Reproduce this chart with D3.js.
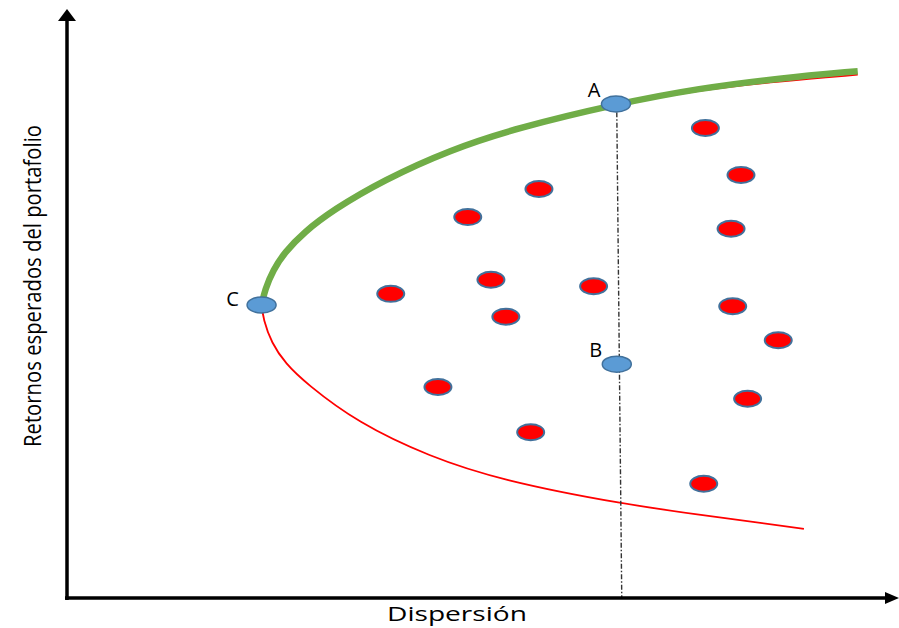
<!DOCTYPE html>
<html>
<head>
<meta charset="utf-8">
<script src="https://cdn.jsdelivr.net/npm/d3@7"></script>
<style>
  html, body { margin: 0; padding: 0; background: #fff; }
  svg { display: block; }
</style>
</head>
<body>
<svg id="chart" width="899" height="628"></svg>
<script>
// ---- Data (dispersion, expected return) in arbitrary units 0-100 ----
const frontierUpper = [
  [23.5, 50.0], [23.9, 52.6], [24.9, 56.0], [26.3, 59.0], [28.6, 62.4], [32.1, 66.2],
  [38.2, 71.3], [46.3, 76.5], [54.3, 80.2], [66.3, 84.3], [76.4, 87.0],
  [86.1, 88.7], [95.5, 89.9]
];
const redUpperTail = [[76.4, 86.7], [86.1, 88.2], [95.5, 89.3]];
const frontierLower = [
  [23.5, 50.0], [23.7, 47.6], [24.7, 43.5], [26.4, 40.0], [28.8, 36.7], [35.1, 29.9],
  [43.8, 24.1], [52.4, 20.1], [67.1, 16.0], [78.5, 13.8], [89.0, 11.8]
];
const portfolioX = [77.1, 81.4, 57.0, 48.4, 80.2, 39.1, 51.2, 63.6, 53.0, 80.4, 85.9, 44.8, 82.2, 56.0, 76.9];
const portfolioY = [80.2, 72.2, 69.8, 65.0, 63.0, 51.9, 54.3, 53.2, 48.0, 49.8, 44.0, 36.0, 34.0, 28.3, 19.5];
const keyLabels = ["A", "B", "C"];
const keyX = [66.3, 66.4, 23.5];
const keyY = [84.3, 39.9, 50.0];
const guideX = [66.4, 67.0];
const guideY = [82.9, 0];
const xTitle = "Dispersión";
const yTitle = "Retornos esperados del portafolio";

// ---- Scales ----
const x = d3.scaleLinear().domain([0, 100]).range([67, 895]);
const y = d3.scaleLinear().domain([0, 100]).range([598, 12]);

const svg = d3.select("#chart");

// ---- Curves ----
const line = d3.line().x(d => x(d[0])).y(d => y(d[1])).curve(d3.curveBasis);

// red full frontier (lower branch + upper branch, continuous through C)
const redFull = frontierLower.slice().reverse()
  .concat(frontierUpper.slice(1, frontierUpper.length - 3))
  .concat(redUpperTail);
svg.append("path").attr("d", line(redFull))
  .attr("fill", "none").attr("stroke", "#FF0000").attr("stroke-width", 1.8);
// green efficient frontier (upper branch)
svg.append("path").attr("d", line(frontierUpper))
  .attr("fill", "none").attr("stroke", "#70AD47").attr("stroke-width", 6.5)
  .attr("stroke-linecap", "butt");

// guide dash-dot line
svg.append("line")
  .attr("x1", x(guideX[0])).attr("y1", y(guideY[0]))
  .attr("x2", x(guideX[1])).attr("y2", y(guideY[1]))
  .attr("stroke", "#333").attr("stroke-width", 1.4)
  .attr("stroke-dasharray", "5,2,1.5,2");

// ---- Axes ----
const axisG = svg.append("g");
axisG.append("line")
  .attr("x1", x(0)).attr("y1", y(0) + 2)
  .attr("x2", x(0)).attr("y2", y(100) + 8)
  .attr("stroke", "#000").attr("stroke-width", 3.5);
axisG.append("path")
  .attr("d", `M${x(0)},${y(100) - 3} L${x(0) - 9},${y(100) + 9} L${x(0) + 9},${y(100) + 9} Z`)
  .attr("fill", "#000");
axisG.append("line")
  .attr("x1", x(0) - 2).attr("y1", y(0))
  .attr("x2", x(100) - 8).attr("y2", y(0))
  .attr("stroke", "#000").attr("stroke-width", 3.5);
axisG.append("path")
  .attr("d", `M${x(100) + 4},${y(0)} L${x(100) - 10},${y(0) - 6} L${x(100) - 10},${y(0) + 6} Z`)
  .attr("fill", "#000");

// ---- Portfolio dots ----
svg.append("g").selectAll("ellipse")
  .data(portfolioX.map((d, i) => [d, portfolioY[i]]))
  .join("ellipse")
  .attr("cx", d => x(d[0])).attr("cy", d => y(d[1]))
  .attr("rx", 13.5).attr("ry", 8)
  .attr("fill", "#FF0000").attr("stroke", "#41719C").attr("stroke-width", 2);

// ---- Key points A, B, C ----
const keys = keyLabels.map((l, i) => ({ l, x: keyX[i], y: keyY[i] }));
svg.append("g").selectAll("ellipse")
  .data(keys).join("ellipse")
  .attr("cx", d => x(d.x)).attr("cy", d => y(d.y))
  .attr("rx", 14.5).attr("ry", 8)
  .attr("fill", "#5B9BD5").attr("stroke", "#41719C").attr("stroke-width", 1.5);

const labelOff = { A: [-22, -7], B: [-21, -7], C: [-29, 1] };
svg.append("g").selectAll("text")
  .data(keys).join("text")
  .attr("x", d => x(d.x) + labelOff[d.l][0])
  .attr("y", d => y(d.y) + labelOff[d.l][1])
  .attr("text-anchor", "middle")
  .attr("font-family", "'Open Sans', sans-serif")
  .attr("font-size", 20)
  .attr("fill", "#000")
  .text(d => d.l);

// ---- Titles ----
svg.append("text")
  .attr("x", 387).attr("y", 621)
  .attr("font-family", "'Open Sans', sans-serif")
  .attr("font-size", 20)
  .attr("textLength", 140).attr("lengthAdjust", "spacingAndGlyphs")
  .attr("fill", "#000")
  .text(xTitle);

svg.append("text")
  .attr("transform", "translate(41,447) rotate(-90)")
  .attr("font-family", "'Open Sans', sans-serif")
  .attr("font-size", 23)
  .attr("textLength", 322).attr("lengthAdjust", "spacingAndGlyphs")
  .attr("fill", "#000")
  .text(yTitle);
</script>
</body>
</html>
